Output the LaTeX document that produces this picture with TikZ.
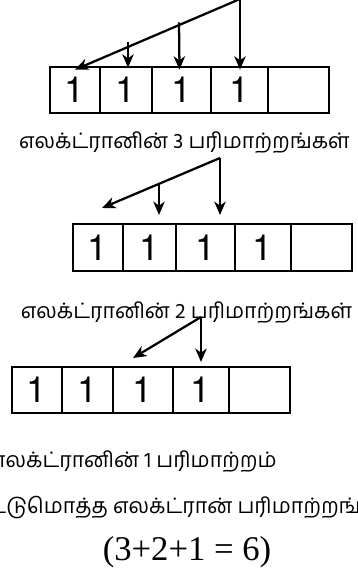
\documentclass[tikz,border=0pt]{standalone}
\usepackage{fontspec}
\setmainfont{Liberation Serif}
\newfontfamily\tamilfont[Script=Tamil]{Hind Madurai}
\newfontfamily\digitfont{TeX Gyre Heros}
\usepackage{tikz}
\usetikzlibrary{arrows.meta,calc,positioning}

\tikzset{
  cell/.style={draw,line width=1.5pt,minimum height=35pt,inner sep=0pt,
    font=\digitfont\fontsize{27}{29}\selectfont},
  ptr/.style={line width=1.7pt,-{Stealth[length=10pt,width=8.5pt,inset=3pt]}},
  caption/.style={font=\tamilfont\fontsize{16}{18}\selectfont,inner sep=0pt},
}

\begin{document}
\begin{tikzpicture}[x=0.75pt,y=-0.75pt]
\useasboundingbox (0,0) rectangle (357,580);
\clip (0,0) rectangle (357,580);

% first row: three exchanges
\foreach \n/\l/\r/\t in {1/50/100/1,2/100/152/1,3/152/211/1,4/211/268/1,5/268/329/{}}
  \node[cell,minimum width={(\r-\l)*0.75pt}] (a\n) at ({(\l+\r)/2},90) {\t};
\coordinate (atop) at (240,-1);
\coordinate (a2s) at (128,41.8);
\coordinate (a3s) at (179,22.3);
\draw[ptr] (atop) -- ($(a1.north)+(0,4)$);
\draw[ptr] (a2s) -- ($(a2.north)+(2,2)$);
\draw[ptr] (a3s) -- ($(a3.north)+(-2,4)$);
\draw[ptr] (atop) -- ($(a4.north)+(0.5,4)$);
\node[caption] (cap3) at (184.5,143) {எலக்ட்ரானின் 3 பரிமாற்றங்கள்};

% second row: two exchanges
\foreach \n/\l/\r/\t in {1/73/123/1,2/123/176/1,3/176/235/1,4/235/291/1,5/291/352/{}}
  \node[cell,minimum width={(\r-\l)*0.75pt}] (b\n) at ({(\l+\r)/2},247.5) {\t};
\coordinate (btop) at (220,158);
\coordinate (bmid) at (159,183.8);
\coordinate (bleft) at (102,208);
\coordinate (bend) at (220,215);
\draw[ptr] (btop) -- (bleft);
\draw[ptr] (bmid) -- (bmid |- bend);
\draw[ptr] (btop) -- (bend);
\node[caption] (cap2) at (186.5,313) {எலக்ட்ரானின் 2 பரிமாற்றங்கள்};

% third row: one exchange
\foreach \n/\l/\r/\t in {1/12/62/1,2/62/113/1,3/113/173/1,4/173/229/1,5/229/290/{}}
  \node[cell,minimum width={(\r-\l)*0.75pt}] (c\n) at ({(\l+\r)/2},390) {\t};
\coordinate (ctop) at (201,317);
\coordinate (cleft) at (133,358);
\coordinate (cend) at (201,362);
\draw[ptr] (ctop) -- (cleft);
\draw[ptr] (ctop) -- (cend);
\node[caption,anchor=east] (cap1) at (277,462) {எலக்ட்ரானின் 1 பரிமாற்றம்};

% total
\node[caption,anchor=east] (total) at (399,508) {ஒட்டுமொத்த எலக்ட்ரான் பரிமாற்றங்கள்};
\node[font=\fontsize{26}{28}\selectfont,inner sep=0pt] (sum) at (187,552) {(3+2+1 = 6)};
\end{tikzpicture}
\end{document}
